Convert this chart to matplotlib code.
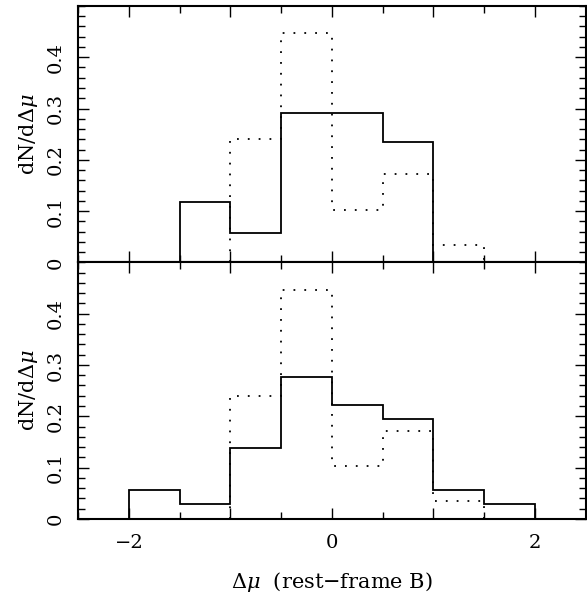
import numpy as np
import matplotlib
matplotlib.use("Agg")
import matplotlib.pyplot as plt
from matplotlib.ticker import MultipleLocator, FuncFormatter

# bin edges and heights (width 0.5)
top_solid_edges = [-1.5, -1.0, -0.5, 0.0, 0.5, 1.0]
top_solid = [0.118, 0.057, 0.292, 0.292, 0.234]

dotted_edges = [-1.0, -0.5, 0.0, 0.5, 1.0, 1.5]
dotted = [0.240, 0.447, 0.103, 0.172, 0.034]

bot_solid_edges = [-2.0, -1.5, -1.0, -0.5, 0.0, 0.5, 1.0, 1.5, 2.0]
bot_solid = [0.056, 0.028, 0.139, 0.277, 0.222, 0.194, 0.056, 0.028]

y_ticks = [0, 0.1, 0.2, 0.3, 0.4]

plt.rcParams['font.family'] = 'DejaVu Serif'
plt.rcParams['mathtext.fontset'] = 'dejavuserif'

FS = 14

fig = plt.figure(figsize=(5.87, 5.95), dpi=100)
gs = fig.add_gridspec(2, 1, left=0.133, right=0.998, top=0.99, bottom=0.128, hspace=0)
ax1 = fig.add_subplot(gs[0])
ax2 = fig.add_subplot(gs[1], sharex=ax1)

dot_style = (0, (1, 5))

ax1.stairs(top_solid, top_solid_edges, baseline=0, color='black', lw=1.3)
ax1.stairs(dotted, dotted_edges, baseline=0, color='black', lw=1.3, linestyle=dot_style)
ax2.stairs(bot_solid, bot_solid_edges, baseline=0, color='black', lw=1.3)
ax2.stairs(dotted, dotted_edges, baseline=0, color='black', lw=1.3, linestyle=dot_style)


def xfmt(v, pos):
    r = int(round(v))
    if r % 2 == 0:
        return "\u2212%d" % abs(r) if r < 0 else "%d" % r
    return ""


def yfmt(v, pos):
    if abs(v) < 1e-9:
        return "0"
    return "%.1f" % v


for ax in (ax1, ax2):
    ax.set_xlim(-2.5, 2.5)
    ax.set_ylim(0, 0.5)
    ax.xaxis.set_major_locator(MultipleLocator(1))
    ax.xaxis.set_minor_locator(MultipleLocator(0.5))
    ax.set_yticks(y_ticks)
    ax.yaxis.set_minor_locator(MultipleLocator(0.02))
    ax.yaxis.set_major_formatter(FuncFormatter(yfmt))
    ax.tick_params(which='both', direction='in', top=True, right=True, width=1)
    ax.tick_params(which='major', length=8)
    ax.tick_params(which='minor', length=5)
    ax.tick_params(axis='y', labelsize=FS, labelrotation=90, pad=9.5)
    ax.tick_params(axis='x', labelsize=FS, pad=11)
    for lab in ax.get_yticklabels():
        lab.set_va('center')
    for s in ax.spines.values():
        s.set_linewidth(1.5)
    ax.set_ylabel(r"dN/d$\Delta\mu$", fontsize=FS + 1, labelpad=5)

ax1.tick_params(axis='x', labelbottom=False)
ax2.xaxis.set_major_formatter(FuncFormatter(xfmt))
ax2.set_xlabel("$\\Delta\\mu$  (rest\u2212frame B)", fontsize=FS + 1, labelpad=13)

fig.savefig("out.png", dpi=100)
